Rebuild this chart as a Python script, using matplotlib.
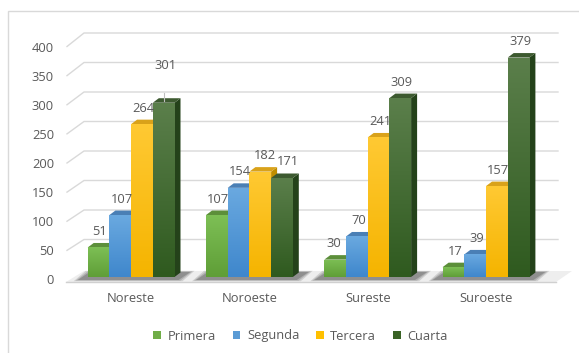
import matplotlib
matplotlib.use("Agg")
import matplotlib.pyplot as plt
import numpy as np
from matplotlib.patches import Polygon, Rectangle, Patch
from matplotlib.colors import LinearSegmentedColormap

# ---------------- data ----------------
regions = ["Noreste", "Noroeste", "Sureste", "Suroeste"]
series_names = ["Primera", "Segunda", "Tercera", "Cuarta"]
primera = [51, 107, 30, 17]
segunda = [107, 154, 70, 39]
tercera = [264, 182, 241, 157]
cuarta = [301, 171, 309, 379]
ytick_values = [0, 50, 100, 150, 200, 250, 300, 350, 400]

series_values = [primera, segunda, tercera, cuarta]

# ---------------- style ----------------
front_top = ["#7dbf55", "#6aa9e0", "#ffc933", "#5b7f4b"]
front_bot = ["#5f9e37", "#3f87cc", "#f5b400", "#2f5a1f"]
side_col = ["#4b7d2a", "#2f6aa3", "#c08e00", "#24421a"]
top_col = ["#5c8f3a", "#4a7fb5", "#d9a21a", "#3d5a30"]
legend_col = ["#70ad47", "#5b9bd5", "#ffc000", "#3a6326"]
txt_col = "#595959"
grid_col = "#d9d9d9"
FONT = "Open Sans"
FS = 9.3

W, H = 579, 353
fig = plt.figure(figsize=(W / 100, H / 100), dpi=100)
ax = fig.add_axes([0, 0, 1, 1])

PPU = 0.579   # pixels per value unit
Y0 = 277.0    # pixel row of value 0
X0 = 131.1    # pixel column of first group centre
XS = 118.3    # pixels per category


def px_x(q):
    return (q - X0) / XS


def px_y(p):
    return (Y0 - p) / PPU


def dx_px(d):
    return d / XS


def dy_px(d):
    return d / PPU


# frame
fig.patches.append(Rectangle((8 / W, -0.1), 1.2, 1 - 11 / H + 0.1, transform=fig.transFigure,
                             fill=False, edgecolor="#d9d9d9", lw=1.0))

# back wall gridlines (perspective)
for t in ytick_values[1:]:
    pf = 281 - 0.5825 * t - 1.5
    pb = 269 - 0.59 * t
    ax.plot([px_x(67), px_x(84), px_x(558)], [px_y(pf), px_y(pb), px_y(pb)],
            color=grid_col, lw=1.0, zorder=1)

# tick labels
for t in ytick_values:
    ax.text(px_x(54), px_y(281 - 0.5825 * t), str(t), ha="right", va="center",
            fontsize=FS, color=txt_col, family=FONT)

# floor
floor = Polygon([(px_x(66), px_y(282)), (px_x(556), px_y(282)),
                 (px_x(572), px_y(271)), (px_x(84), px_y(271))],
                closed=True, facecolor="#eeeeee", edgecolor="none", zorder=1.5)
ax.add_patch(floor)
ax.plot([px_x(66), px_x(556)], [px_y(282), px_y(282)], color="#d0d0d0", lw=1.0, zorder=1.6)

n = len(regions)
x = np.arange(n)
bw = 21.7 / XS
ddx = dx_px(6.0)
ddy = dy_px(4.5)

# shadows under groups (soft, layered)
for i in range(n):
    left = i - 2 * bw
    right = i + 2 * bw
    for k, a in enumerate([0.18, 0.22, 0.3]):
        g = 4 - 2 * k
        sh = Polygon([(left - dx_px(10 + g), px_y(280 + g * 0.3)), (right + dx_px(4 + g), px_y(280 + g * 0.3)),
                      (right + dx_px(16 + g), px_y(272 - g * 0.3)), (left + dx_px(2 - g), px_y(272 - g * 0.3))],
                     closed=True, facecolor="#444444", alpha=a, edgecolor="none", zorder=1.7)
        ax.add_patch(sh)

# bars
grad = np.linspace(1, 0, 100).reshape(-1, 1)
zo = 2.0
for i in range(n):
    for j in range(4):
        v = series_values[j][i]
        xc = x[i] + (j - 1.5) * bw
        x0 = xc - bw / 2
        x1 = xc + bw / 2
        side = Polygon([(x1, 0), (x1 + ddx, ddy), (x1 + ddx, v + ddy), (x1, v)], closed=True,
                       facecolor=side_col[j], edgecolor="none", zorder=zo)
        ax.add_patch(side)
        top = Polygon([(x0, v), (x0 + ddx, v + ddy), (x1 + ddx, v + ddy), (x1, v)], closed=True,
                      facecolor=top_col[j], edgecolor="none", zorder=zo + 0.01)
        ax.add_patch(top)
        rect = ax.bar(xc, v, width=bw, color=front_bot[j], edgecolor="none", zorder=zo + 0.02)[0]
        cmap = LinearSegmentedColormap.from_list("g%d" % j, [front_bot[j], front_top[j]])
        im = ax.imshow(grad, cmap=cmap, extent=[x0, x1, 0, v], aspect="auto",
                       zorder=zo + 0.03, interpolation="bilinear")
        im.set_clip_path(rect)
        zo += 0.1

# value labels
extra = {(0, 3): (0, 21), (1, 3): (4, 0), (1, 2): (3, 0), (2, 0): (-2.5, 0)}
for i in range(n):
    for j in range(4):
        v = series_values[j][i]
        xc = x[i] + (j - 1.5) * bw
        ex, ey = extra.get((i, j), (0, 0))
        ax.text(xc + dx_px(1.5 + ex), v + dy_px(16 + ey), str(v), ha="center", va="center",
                fontsize=FS, color=txt_col, family=FONT, zorder=10)
        if (i, j) == (0, 3):
            ax.plot([xc, xc], [v + dy_px(2), v + dy_px(10)], color="#bfbfbf", lw=0.8, zorder=10)

# category labels
for i, r in enumerate(regions):
    ax.text(x[i], px_y(299), r, ha="center", va="center", fontsize=FS, color=txt_col, family=FONT)

# legend
handles = [Patch(facecolor=legend_col[j], edgecolor="none", label=series_names[j]) for j in range(4)]
leg = ax.legend(handles=handles, loc="center", bbox_to_anchor=(300.5 / W, 1 - 336 / H),
                ncol=4, frameon=False, handlelength=0.6, handleheight=0.6, handletextpad=0.5,
                columnspacing=1.3, prop={"family": FONT, "size": FS})
for t in leg.get_texts():
    t.set_color(txt_col)

ax.set_xlim(px_x(0), px_x(W))
ax.set_ylim(px_y(H), px_y(0))
ax.axis("off")
fig.savefig("out.png", dpi=100)
